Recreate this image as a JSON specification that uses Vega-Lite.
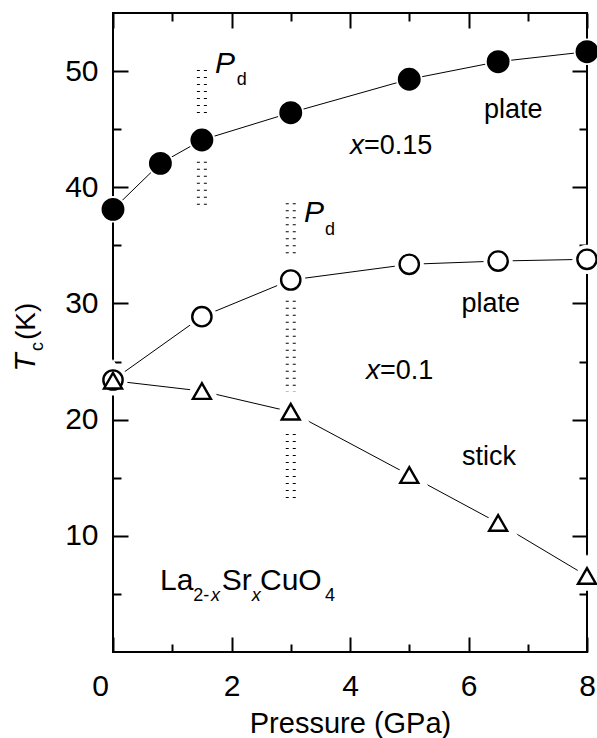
{
  "$schema": "https://vega.github.io/schema/vega-lite/v6.json",
  "width": 474,
  "height": 639,
  "autosize": {"type": "none"},
  "padding": {"left": 113, "top": 13, "right": 10, "bottom": 86},
  "background": "white",
  "datasets": {
    "pts": [
      {"series": "x=0.15 plate", "P": 0.0, "T": 38.1},
      {"series": "x=0.15 plate", "P": 0.8, "T": 42.06},
      {"series": "x=0.15 plate", "P": 1.5, "T": 44.07},
      {"series": "x=0.15 plate", "P": 3.0, "T": 46.42},
      {"series": "x=0.15 plate", "P": 5.0, "T": 49.3},
      {"series": "x=0.15 plate", "P": 6.5, "T": 50.81},
      {"series": "x=0.15 plate", "P": 8.0, "T": 51.67},
      {"series": "x=0.1 plate", "P": 0.0, "T": 23.41},
      {"series": "x=0.1 plate", "P": 1.5, "T": 28.86},
      {"series": "x=0.1 plate", "P": 3.0, "T": 32.02},
      {"series": "x=0.1 plate", "P": 5.0, "T": 33.37},
      {"series": "x=0.1 plate", "P": 6.5, "T": 33.65},
      {"series": "x=0.1 plate", "P": 8.0, "T": 33.8},
      {"series": "x=0.1 stick", "P": 0.0, "T": 23.35},
      {"series": "x=0.1 stick", "P": 1.5, "T": 22.46},
      {"series": "x=0.1 stick", "P": 3.0, "T": 20.68},
      {"series": "x=0.1 stick", "P": 5.0, "T": 15.23},
      {"series": "x=0.1 stick", "P": 6.5, "T": 11.11},
      {"series": "x=0.1 stick", "P": 8.0, "T": 6.54}
    ],
    "pd": [
      {"P": 1.5, "T1": 50.09, "T2": 45.88},
      {"P": 1.5, "T1": 42.2, "T2": 38.04},
      {"P": 3.0, "T1": 38.62, "T2": 33.8},
      {"P": 3.0, "T1": 30.24, "T2": 22.38},
      {"P": 3.0, "T1": 18.76, "T2": 12.74}
    ],
    "ann": [
      {"role": "tvar", "P": -1.316, "T": 24.92, "text": "T"},
      {"role": "tsub", "P": -1.181, "T": 26.29, "text": "c"},
      {"role": "tunit", "P": -1.316, "T": 28.45, "text": "(K)"},
      {"role": "pd", "P": 1.722, "T": 49.81, "text": "P"},
      {"role": "pd", "P": 3.224, "T": 37.04, "text": "P"},
      {"role": "sub", "P": 2.088, "T": 48.8, "text": "d"},
      {"role": "sub", "P": 3.578, "T": 35.89, "text": "d"},
      {"role": "sub", "P": 1.355, "T": 4.42, "text": "2-"},
      {"role": "sub", "P": 3.578, "T": 4.42, "text": "4"},
      {"role": "subvar", "P": 1.654, "T": 4.42, "text": "x"},
      {"role": "subvar", "P": 2.341, "T": 4.42, "text": "x"},
      {"role": "var", "P": 4.0, "T": 42.86, "text": "x"},
      {"role": "var", "P": 4.27, "T": 23.47, "text": "x"},
      {"role": "text", "P": 4.236, "T": 42.86, "text": "=0.15"},
      {"role": "text", "P": 4.506, "T": 23.47, "text": "=0.1"},
      {"role": "text", "P": 6.262, "T": 45.94, "text": "plate"},
      {"role": "text", "P": 5.882, "T": 29.29, "text": "plate"},
      {"role": "text", "P": 5.89, "T": 16.1, "text": "stick"},
      {"role": "formula", "P": 0.793, "T": 5.34, "text": "La"},
      {"role": "formula", "P": 1.835, "T": 5.34, "text": "Sr"},
      {"role": "formula", "P": 2.481, "T": 5.34, "text": "CuO"}
    ]
  },
  "resolve": {"axis": {"x": "independent", "y": "independent"}},
  "config": {
    "view": {"stroke": "black", "strokeWidth": 2},
    "axis": {
      "domain": false,
      "grid": false,
      "labelFont": "Liberation Sans",
      "labelFontSize": 30,
      "labelColor": "black",
      "labelFlush": false,
      "titleFont": "Liberation Sans",
      "titleFontSize": 29,
      "titleFontWeight": "normal",
      "titleColor": "black",
      "tickColor": "black",
      "tickWidth": 2
    }
  },
  "layer": [
    {
      "data": {"name": "pts"},
      "mark": {"type": "line", "color": "black", "strokeWidth": 1},
      "encoding": {
        "x": {"field": "P", "type": "quantitative", "scale": {"domain": [0, 8], "nice": false, "zero": false},
              "axis": {"orient": "bottom", "values": [0, 2, 4, 6, 8], "ticks": false, "tickSize": 0, "labelPadding": 19, "labelBaseline": "top",
                       "labelOffset": {"condition": {"test": "datum.value === 0", "value": -13}, "value": 0},
                       "title": "Pressure (GPa)", "titlePadding": 8}},
        "y": {"field": "T", "type": "quantitative", "scale": {"domain": [0, 55], "nice": false, "zero": false},
              "axis": {"orient": "left", "values": [10, 20, 30, 40, 50], "ticks": false, "tickSize": 0, "labelPadding": 15, "title": null}},
        "detail": {"field": "series"}
      }
    },
    {
      "data": {"name": "pts"},
      "mark": {"type": "point", "filled": true, "fill": "white", "stroke": "white", "opacity": 1},
      "encoding": {
        "x": {"field": "P", "type": "quantitative", "scale": {"domain": [0, 8], "nice": false, "zero": false},
              "axis": {"orient": "bottom", "values": [0, 2, 4, 6, 8], "tickSize": -15, "labels": false, "title": null}},
        "y": {"field": "T", "type": "quantitative", "scale": {"domain": [0, 55], "nice": false, "zero": false},
              "axis": {"orient": "left", "values": [10, 20, 30, 40, 50], "tickSize": -15, "labels": false, "title": null}},
        "shape": {"field": "series", "scale": {"domain": ["x=0.15 plate", "x=0.1 plate", "x=0.1 stick"], "range": ["circle", "circle", "triangle-up"]}, "legend": null},
        "size": {"field": "series", "scale": {"domain": ["x=0.15 plate", "x=0.1 plate", "x=0.1 stick"], "range": [420, 324, 650]}, "legend": null},
        "strokeWidth": {"field": "series", "scale": {"domain": ["x=0.15 plate", "x=0.1 plate", "x=0.1 stick"], "range": [6, 14, 6]}, "legend": null}
      }
    },
    {
      "data": {"name": "pts"},
      "mark": {"type": "point", "stroke": "black", "strokeWidth": 2.4, "opacity": 1},
      "encoding": {
        "x": {"field": "P", "type": "quantitative", "scale": {"domain": [0, 8], "nice": false, "zero": false},
              "axis": {"orient": "bottom", "values": [1, 3, 5, 7], "tickSize": -8, "labels": false, "title": null}},
        "y": {"field": "T", "type": "quantitative", "scale": {"domain": [0, 55], "nice": false, "zero": false},
              "axis": {"orient": "left", "values": [5, 15, 25, 35, 45], "tickSize": -8, "labels": false, "title": null}},
        "shape": {"field": "series", "scale": {"domain": ["x=0.15 plate", "x=0.1 plate", "x=0.1 stick"], "range": ["circle", "circle", "triangle-up"]}, "legend": null},
        "size": {"field": "series", "scale": {"domain": ["x=0.15 plate", "x=0.1 plate", "x=0.1 stick"], "range": [420, 324, 650]}, "legend": null},
        "fill": {"field": "series", "scale": {"domain": ["x=0.15 plate", "x=0.1 plate", "x=0.1 stick"], "range": ["black", "white", "white"]}, "legend": null}
      }
    },
    {
      "data": {"name": "pd"},
      "mark": {"type": "rule", "color": "black", "strokeWidth": 3, "strokeDash": [1, 6], "xOffset": -3.5},
      "encoding": {
        "x": {"field": "P", "type": "quantitative", "scale": {"domain": [0, 8], "nice": false, "zero": false},
              "axis": {"orient": "top", "values": [0, 2, 4, 6, 8], "tickSize": -15, "labels": false, "title": null}},
        "y": {"field": "T1", "type": "quantitative", "scale": {"domain": [0, 55], "nice": false, "zero": false},
              "axis": {"orient": "right", "values": [10, 20, 30, 40, 50], "tickSize": -15, "labels": false, "title": null}},
        "y2": {"field": "T2"}
      }
    },
    {
      "data": {"name": "pd"},
      "mark": {"type": "rule", "color": "black", "strokeWidth": 3, "strokeDash": [1, 6], "xOffset": 3.5},
      "encoding": {
        "x": {"field": "P", "type": "quantitative", "scale": {"domain": [0, 8], "nice": false, "zero": false},
              "axis": {"orient": "top", "values": [1, 3, 5, 7], "tickSize": -8, "labels": false, "title": null}},
        "y": {"field": "T1", "type": "quantitative", "scale": {"domain": [0, 55], "nice": false, "zero": false},
              "axis": {"orient": "right", "values": [5, 15, 25, 35, 45], "tickSize": -8, "labels": false, "title": null}},
        "y2": {"field": "T2"}
      }
    },
    {
      "data": {"name": "ann"},
      "transform": [{"filter": "datum.role === 'tvar'"}],
      "mark": {"type": "text", "font": "Liberation Sans", "fontSize": 30, "fontStyle": "italic", "angle": 270, "align": "center", "baseline": "alphabetic", "fill": "black", "clip": false},
      "encoding": {
        "x": {"field": "P", "type": "quantitative", "scale": {"domain": [0, 8], "nice": false, "zero": false}, "axis": null},
        "y": {"field": "T", "type": "quantitative", "scale": {"domain": [0, 55], "nice": false, "zero": false}, "axis": null},
        "text": {"field": "text"}
      }
    },
    {
      "data": {"name": "ann"},
      "transform": [{"filter": "datum.role === 'tsub'"}],
      "mark": {"type": "text", "font": "Liberation Sans", "fontSize": 18, "angle": 270, "align": "center", "baseline": "alphabetic", "fill": "black", "clip": false},
      "encoding": {
        "x": {"field": "P", "type": "quantitative", "scale": {"domain": [0, 8], "nice": false, "zero": false}, "axis": null},
        "y": {"field": "T", "type": "quantitative", "scale": {"domain": [0, 55], "nice": false, "zero": false}, "axis": null},
        "text": {"field": "text"}
      }
    },
    {
      "data": {"name": "ann"},
      "transform": [{"filter": "datum.role === 'tunit'"}],
      "mark": {"type": "text", "font": "Liberation Sans", "fontSize": 28, "angle": 270, "align": "center", "baseline": "alphabetic", "fill": "black", "clip": false},
      "encoding": {
        "x": {"field": "P", "type": "quantitative", "scale": {"domain": [0, 8], "nice": false, "zero": false}, "axis": null},
        "y": {"field": "T", "type": "quantitative", "scale": {"domain": [0, 55], "nice": false, "zero": false}, "axis": null},
        "text": {"field": "text"}
      }
    },
    {
      "data": {"name": "ann"},
      "transform": [{"filter": "datum.role === 'pd'"}],
      "mark": {"type": "text", "font": "Liberation Sans", "fontSize": 30, "fontStyle": "italic", "align": "left", "baseline": "alphabetic", "fill": "black", "clip": false},
      "encoding": {
        "x": {"field": "P", "type": "quantitative", "scale": {"domain": [0, 8], "nice": false, "zero": false}, "axis": null},
        "y": {"field": "T", "type": "quantitative", "scale": {"domain": [0, 55], "nice": false, "zero": false}, "axis": null},
        "text": {"field": "text"}
      }
    },
    {
      "data": {"name": "ann"},
      "transform": [{"filter": "datum.role === 'sub'"}],
      "mark": {"type": "text", "font": "Liberation Sans", "fontSize": 18, "align": "left", "baseline": "alphabetic", "fill": "black", "clip": false},
      "encoding": {
        "x": {"field": "P", "type": "quantitative", "scale": {"domain": [0, 8], "nice": false, "zero": false}, "axis": null},
        "y": {"field": "T", "type": "quantitative", "scale": {"domain": [0, 55], "nice": false, "zero": false}, "axis": null},
        "text": {"field": "text"}
      }
    },
    {
      "data": {"name": "ann"},
      "transform": [{"filter": "datum.role === 'subvar'"}],
      "mark": {"type": "text", "font": "Liberation Sans", "fontSize": 18, "fontStyle": "italic", "align": "left", "baseline": "alphabetic", "fill": "black", "clip": false},
      "encoding": {
        "x": {"field": "P", "type": "quantitative", "scale": {"domain": [0, 8], "nice": false, "zero": false}, "axis": null},
        "y": {"field": "T", "type": "quantitative", "scale": {"domain": [0, 55], "nice": false, "zero": false}, "axis": null},
        "text": {"field": "text"}
      }
    },
    {
      "data": {"name": "ann"},
      "transform": [{"filter": "datum.role === 'var'"}],
      "mark": {"type": "text", "font": "Liberation Sans", "fontSize": 28, "fontStyle": "italic", "align": "left", "baseline": "alphabetic", "fill": "black", "clip": false},
      "encoding": {
        "x": {"field": "P", "type": "quantitative", "scale": {"domain": [0, 8], "nice": false, "zero": false}, "axis": null},
        "y": {"field": "T", "type": "quantitative", "scale": {"domain": [0, 55], "nice": false, "zero": false}, "axis": null},
        "text": {"field": "text"}
      }
    },
    {
      "data": {"name": "ann"},
      "transform": [{"filter": "datum.role === 'text'"}],
      "mark": {"type": "text", "font": "Liberation Sans", "fontSize": 27, "align": "left", "baseline": "alphabetic", "fill": "black", "clip": false},
      "encoding": {
        "x": {"field": "P", "type": "quantitative", "scale": {"domain": [0, 8], "nice": false, "zero": false}, "axis": null},
        "y": {"field": "T", "type": "quantitative", "scale": {"domain": [0, 55], "nice": false, "zero": false}, "axis": null},
        "text": {"field": "text"}
      }
    },
    {
      "data": {"name": "ann"},
      "transform": [{"filter": "datum.role === 'formula'"}],
      "mark": {"type": "text", "font": "Liberation Sans", "fontSize": 30, "align": "left", "baseline": "alphabetic", "fill": "black", "clip": false},
      "encoding": {
        "x": {"field": "P", "type": "quantitative", "scale": {"domain": [0, 8], "nice": false, "zero": false}, "axis": null},
        "y": {"field": "T", "type": "quantitative", "scale": {"domain": [0, 55], "nice": false, "zero": false}, "axis": null},
        "text": {"field": "text"}
      }
    }
  ]
}
